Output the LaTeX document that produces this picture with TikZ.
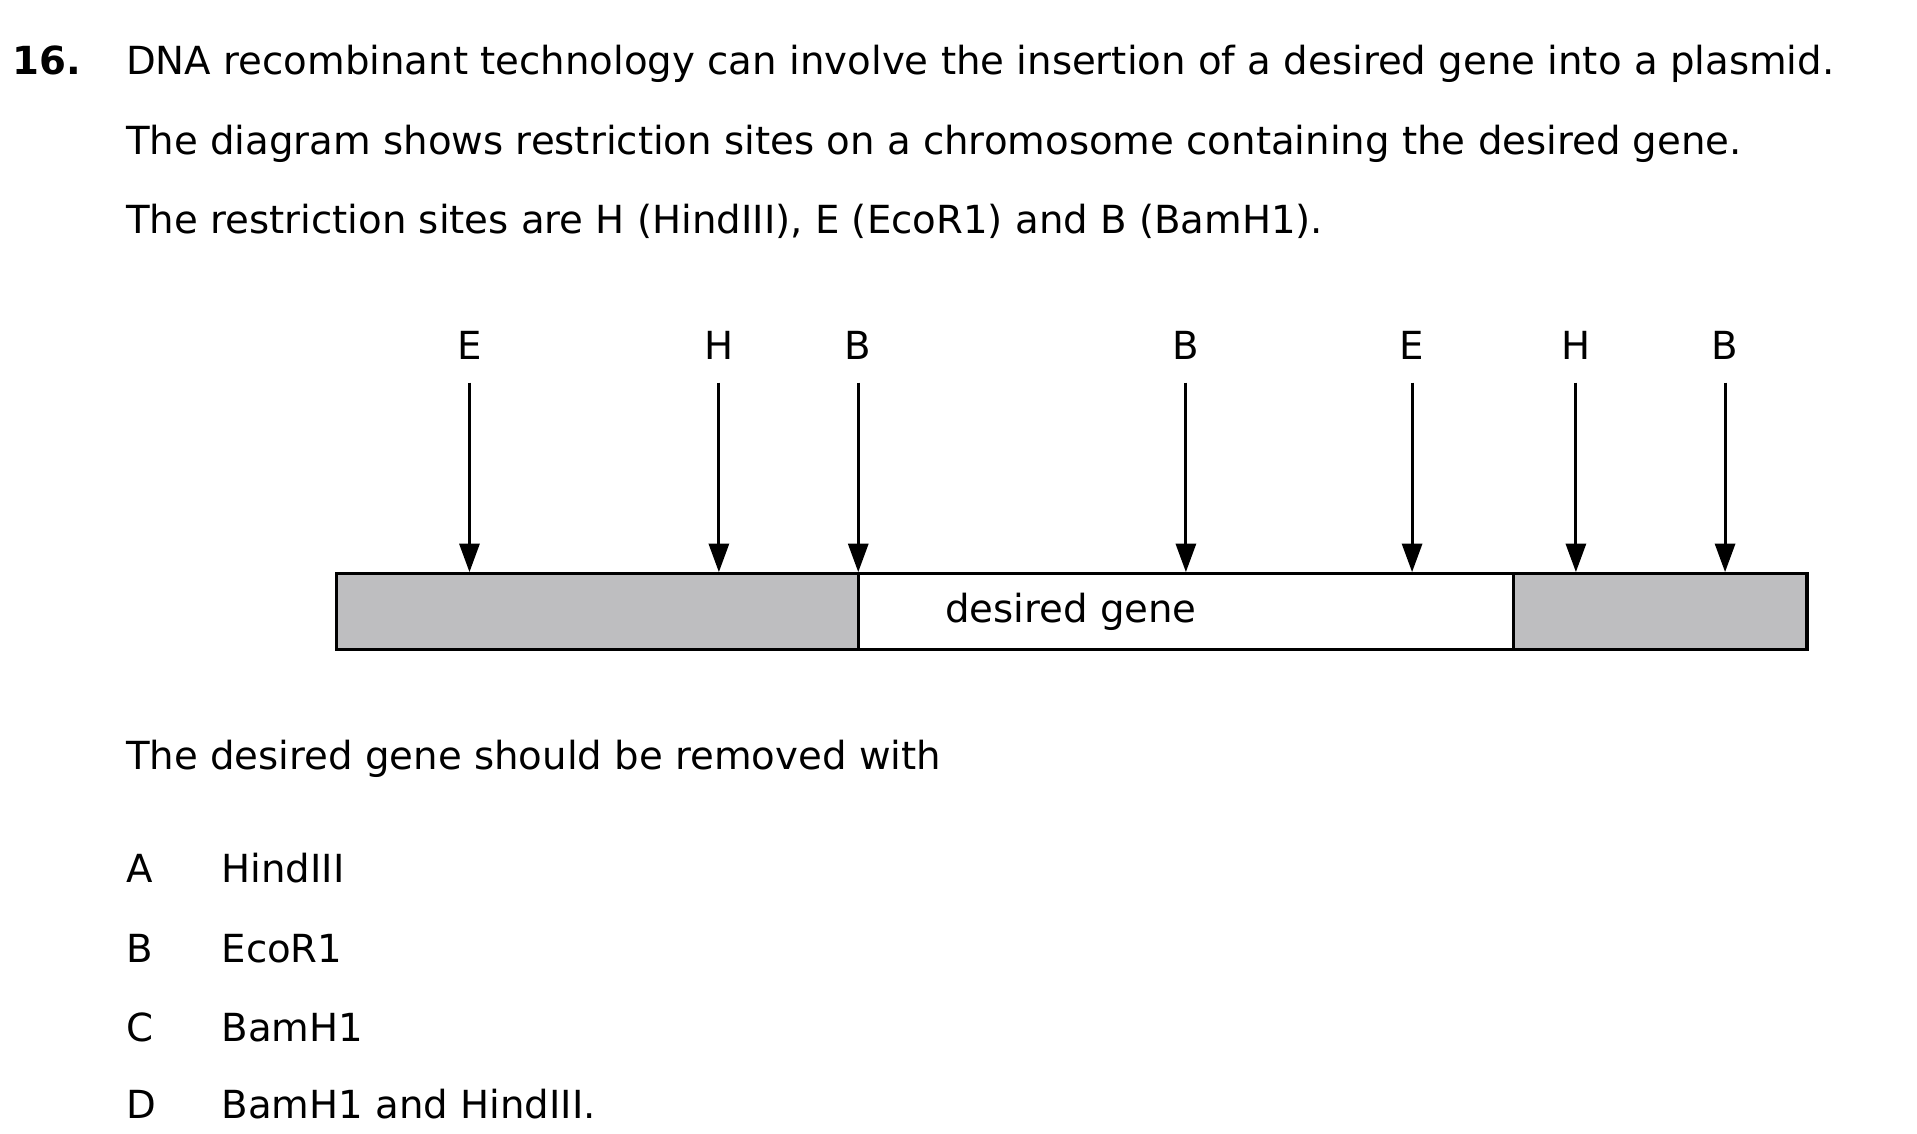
\documentclass[tikz,border=0pt]{standalone}
\usepackage{fontspec}
\setmainfont{DejaVu Sans}
\usetikzlibrary{arrows.meta}
\begin{document}
\begin{tikzpicture}[x=0.03cm,y=-0.03cm,
  txt/.style={anchor=base west,inner sep=0pt,font=\fontsize{27}{30}\selectfont},
  lbl/.style={anchor=base,inner sep=0pt,font=\fontsize{27}{30}\selectfont},
  site/.style={line width=2.2pt,-{Triangle[length=20pt,width=14pt]}},
  seg/.style={draw=black,line width=2.2pt}]
\useasboundingbox (0,0) rectangle (1568,927);
\node[txt,font=\bfseries\fontsize{27}{30}\selectfont] (num) at (10,61) {16.};
\node[txt] (l1) at (103,61) {DNA recombinant technology can involve the insertion of a desired gene into a plasmid.};
\node[txt] (l2) at (103,126) {The diagram shows restriction sites on a chromosome containing the desired gene.};
\node[txt] (l3) at (103,191) {The restriction sites are H (HindIII), E (EcoR1) and B (BamH1).};
\fill[fill={rgb,255:red,190;green,190;blue,192}] (275,469) rectangle (702,531);
\fill[fill={rgb,255:red,190;green,190;blue,192}] (1238,469) rectangle (1478,531);
\draw[seg] (275,469) rectangle (1478,531);
\draw[seg] (702,469) -- (702,531) (1238,469) -- (1238,531);
\node[lbl] (g) at (876,509) {desired gene};
\foreach \x/\t [count=\i] in {384/E,588/H,702/B,970/B,1155/E,1289/H,1411/B}{
  \node[lbl] (s\i) at (\x,294) {\t};
  \coordinate (t\i) at (\x,313);
  \coordinate (h\i) at (\x,468);
  \draw[site] (t\i) -- (h\i);
}
\node[txt] (q) at (103,629) {The desired gene should be removed with};
\foreach \y/\a/\b in {722/A/HindIII,787/B/EcoR1,852/C/BamH1,915/D/BamH1 and HindIII.}{
  \node[txt] at (103,\y) {\a};
  \node[txt] at (181,\y) {\b};
}
\end{tikzpicture}
\end{document}
